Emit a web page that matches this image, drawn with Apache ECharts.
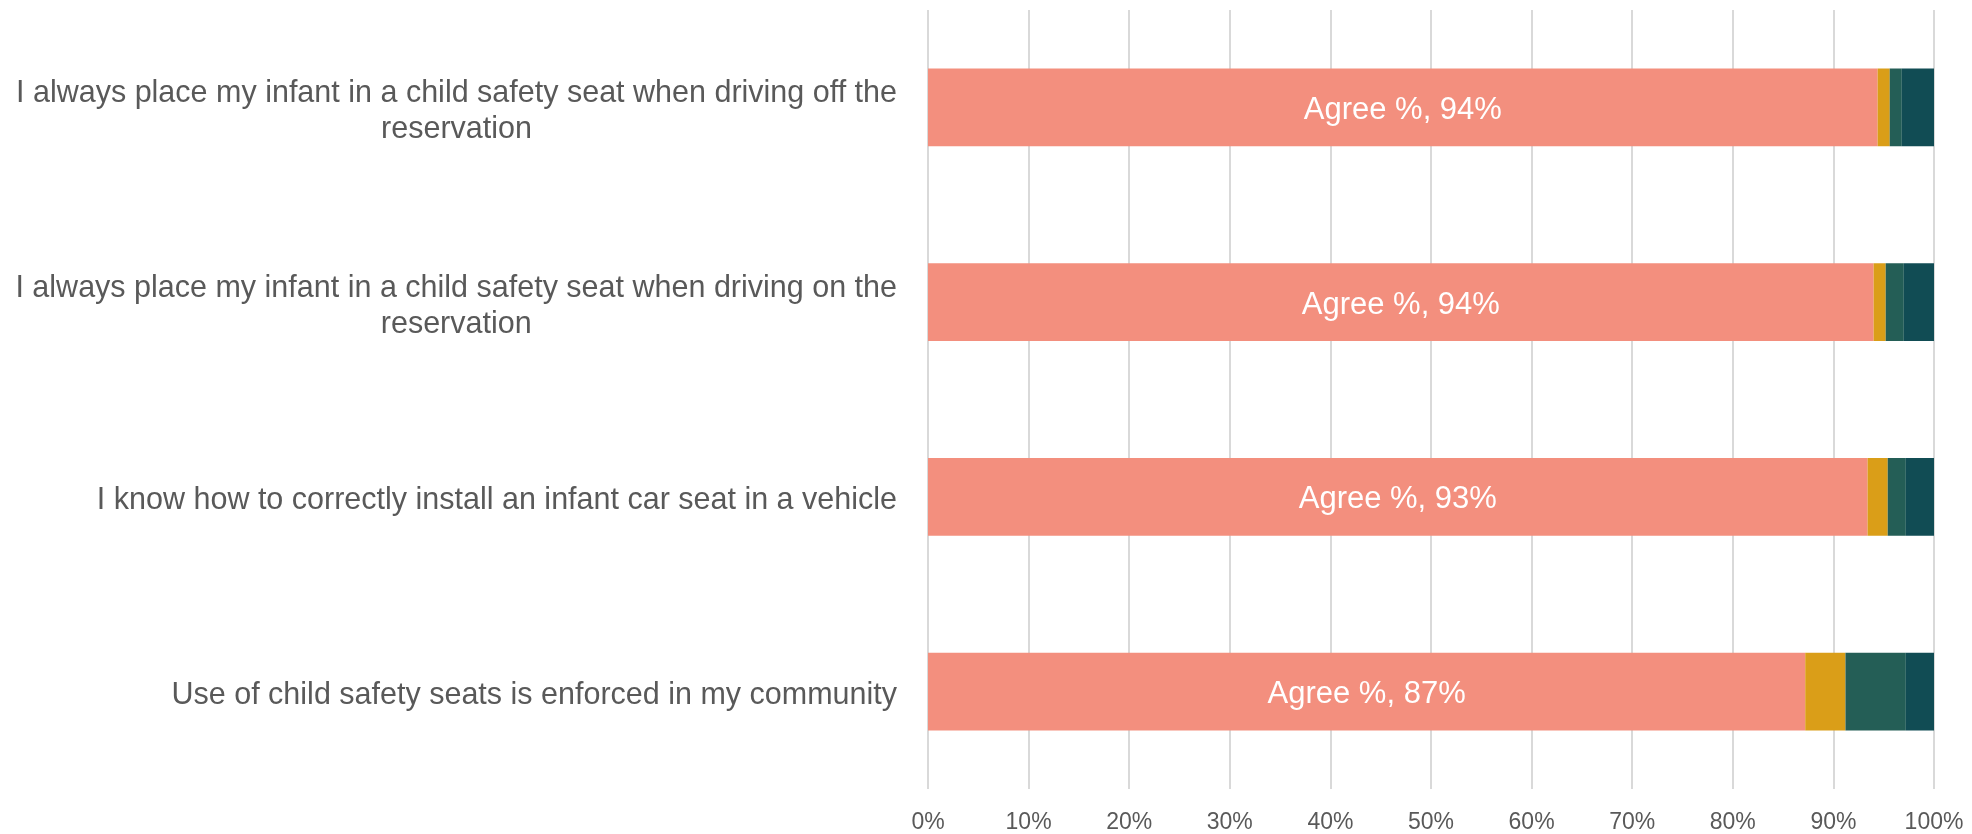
<!DOCTYPE html>
<html>
<head>
<meta charset="utf-8">
<script src="https://cdn.jsdelivr.net/npm/echarts@6/dist/echarts.min.js"></script>
<style>
  html, body { margin: 0; padding: 0; background: #fff; }
  #main { width: 1972px; height: 834px; }
</style>
</head>
<body>
<div id="main"></div>
<script>
var categories = [
  'I always place my infant in a child safety seat when driving off the\nreservation',
  'I always place my infant in a child safety seat when driving on the\nreservation',
  'I know how to correctly install an infant car seat in a vehicle',
  'Use of child safety seats is enforced in my community'
];
var agree = [94.4, 94.0, 93.4, 87.2];
var neutral = [1.2, 1.2, 2.0, 4.0];
var disagree = [1.2, 1.8, 1.8, 6.0];
var other = [3.2, 3.0, 2.8, 2.8];
var tickLabels = ['0%', '10%', '20%', '30%', '40%', '50%', '60%', '70%', '80%', '90%', '100%'];

var myChart = echarts.init(document.getElementById('main'));
var font = '"Liberation Sans", Arial, sans-serif';

function seg(name, data, color) {
  return {
    name: name,
    type: 'bar',
    stack: 'total',
    barWidth: '40%',
    itemStyle: { color: color },
    data: data
  };
}

var first = seg('Agree %', agree, '#F38F7E');
first.label = {
  show: true,
  position: 'inside',
  offset: [0, 3],
  color: '#ffffff',
  fontFamily: font,
  fontSize: 31,
  formatter: function (p) { return 'Agree %, ' + Math.round(p.value) + '%'; }
};

option = {
  animation: false,
  grid: { left: 928, right: 38, top: 10, bottom: 45 },
  xAxis: {
    type: 'value',
    min: 0,
    max: 100,
    interval: 10,
    axisLine: { show: false },
    axisTick: { show: false },
    splitLine: { lineStyle: { color: '#D9D9D9', width: 2 } },
    axisLabel: {
      margin: 22,
      color: '#595959',
      fontFamily: font,
      fontSize: 23,
      formatter: function (v) { return tickLabels[Math.round(v / 10)]; }
    }
  },
  yAxis: {
    type: 'category',
    inverse: true,
    data: categories,
    axisLine: { show: false },
    axisTick: { show: false },
    splitLine: { show: false },
    axisLabel: {
      margin: 31,
      padding: [8, 0, 0, 0],
      formatter: function (v) {
        return v.split('\n').map(function (s) { return '{c|' + s + '}'; }).join('\n');
      },
      rich: {
        c: {
          color: '#595959',
          fontFamily: font,
          fontSize: 30.5,
          lineHeight: 36,
          align: 'center'
        }
      }
    }
  },
  series: [
    first,
    seg('Neutral %', neutral, '#DA9E18'),
    seg('Disagree %', disagree, '#245E56'),
    seg('Other %', other, '#114C54')
  ]
};
myChart.setOption(option);
window.addEventListener('resize', function () {
  myChart.resize();
});
</script>
</body>
</html>
